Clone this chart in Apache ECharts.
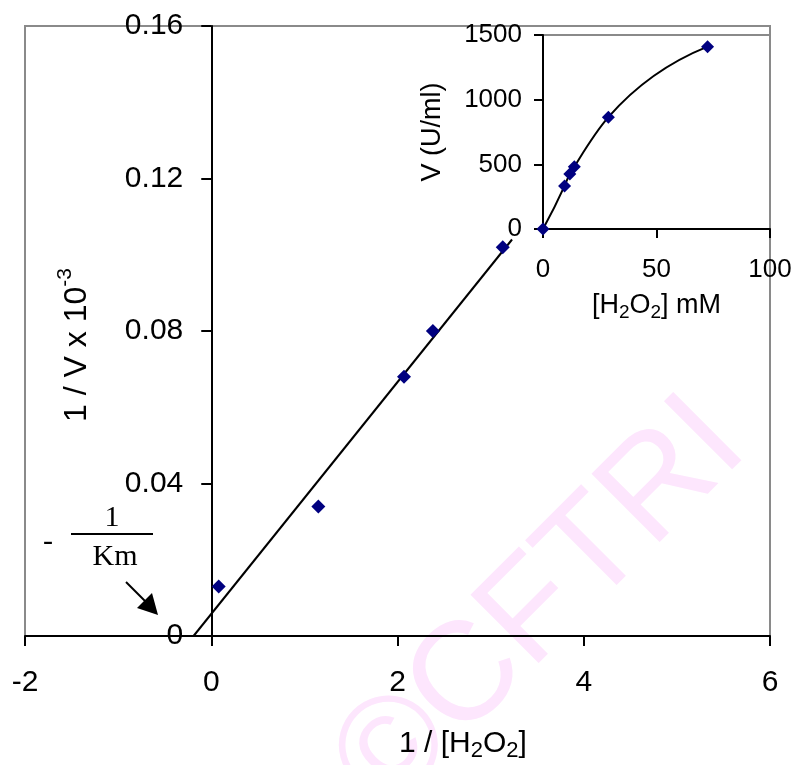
<!DOCTYPE html>
<html>
<head>
<meta charset="utf-8">
<script src="https://cdn.jsdelivr.net/npm/echarts@6/dist/echarts.min.js"></script>
<style>
html,body{margin:0;padding:0;background:#fff;}
#chart{width:795px;height:765px;}
</style>
</head>
<body>
<div id="chart"></div>
<script>
// Main Lineweaver-Burk plot data
const mainX = [0.08, 1.15, 2.07, 2.38, 3.13];
const mainY = [0.013, 0.034, 0.068, 0.080, 0.102];
// Fitted straight line (end points)
const fitX = [-0.19, 3.23];
const fitY = [0, 0.104];
// Inset: V vs [H2O2]
const inX = [0, 9.5, 11.8, 13.8, 28.8, 72.5];
const inY = [0, 333, 425, 482, 865, 1410];
// Tick settings
const mainXTicks = [-2, 0, 2, 4, 6];
const mainYTicks = [0, 0.04, 0.08, 0.12, 0.16];
const inXTicks = [0, 50, 100];
const inYTicks = [0, 500, 1000, 1500];

const FONT = 'Liberation Sans';
const chart = echarts.init(document.getElementById('chart'), null, {renderer: 'canvas'});

const pair = (xs, ys) => xs.map((x, i) => [x, ys[i]]);

// main grid geometry
const G0 = {left: 25, right: 25, top: 26, bottom: 129};
const g0Width = 795 - G0.left - G0.right;
const xMin = mainXTicks[0], xMax = mainXTicks[mainXTicks.length - 1];
// move the y axis so that it crosses the x axis at x = 0
const yAxisOffset = -((0 - xMin) / (xMax - xMin)) * g0Width;

// Smooth curve through the inset points (chordal Hermite -> cubic Bezier), drawn with the axis scales
function smoothPath(pts) {
  const n = pts.length;
  const d = [], u = [];
  for (let i = 0; i < n - 1; i++) {
    const dx = pts[i + 1][0] - pts[i][0], dy = pts[i + 1][1] - pts[i][1];
    const L = Math.hypot(dx, dy) || 1;
    d.push(L); u.push([dx / L, dy / L]);
  }
  const T = [];
  for (let i = 0; i < n; i++) {
    if (i === 0) { T.push(u[0]); continue; }
    if (i === n - 1) { // mirror previous tangent about the last chord
      const c = u[n - 2], t = T[n - 2];
      const dot = c[0] * t[0] + c[1] * t[1];
      const m = [2 * dot * c[0] - t[0], 2 * dot * c[1] - t[1]];
      const l = Math.hypot(m[0], m[1]) || 1;
      T.push([m[0] / l, m[1] / l]); continue;
    }
    const w0 = d[i] / (d[i - 1] + d[i]), w1 = d[i - 1] / (d[i - 1] + d[i]);
    const tx = u[i - 1][0] * w0 + u[i][0] * w1, ty = u[i - 1][1] * w0 + u[i][1] * w1;
    const l = Math.hypot(tx, ty) || 1;
    T.push([tx / l, ty / l]);
  }
  if (n > 2) { // first tangent: mirror second about first chord
    const c = u[0], t = T[1];
    const dot = c[0] * t[0] + c[1] * t[1];
    const m = [2 * dot * c[0] - t[0], 2 * dot * c[1] - t[1]];
    const l = Math.hypot(m[0], m[1]) || 1;
    T[0] = [m[0] / l, m[1] / l];
  }
  let s = 'M' + pts[0][0] + ' ' + pts[0][1];
  for (let i = 0; i < n - 1; i++) {
    const k = d[i] / 3;
    const c1 = [pts[i][0] + T[i][0] * k, pts[i][1] + T[i][1] * k];
    const c2 = [pts[i + 1][0] - T[i + 1][0] * k, pts[i + 1][1] - T[i + 1][1] * k];
    s += ' C' + c1[0] + ' ' + c1[1] + ' ' + c2[0] + ' ' + c2[1] + ' ' + pts[i + 1][0] + ' ' + pts[i + 1][1];
  }
  return s;
}

const option = {
  backgroundColor: '#fff',
  animation: false,
  grid: [
    Object.assign({containLabel: false, outerBoundsMode: 'none',
      show: true, borderColor: '#8a8a8a', borderWidth: 2, backgroundColor: 'transparent'}, G0),
    {left: 543, right: 25, top: 35, bottom: 536, containLabel: false, outerBoundsMode: 'none',
      show: true, borderColor: '#8a8a8a', borderWidth: 2, backgroundColor: 'transparent'}
  ],
  xAxis: [
    {
      type: 'value', gridIndex: 0,
      min: xMin, max: xMax, interval: 2,
      axisLine: {show: true, onZero: false, lineStyle: {color: '#000', width: 2}},
      axisTick: {show: true, length: 10, lineStyle: {color: '#000', width: 2}},
      axisLabel: {color: '#000', fontFamily: FONT, fontSize: 30, margin: 32, formatter: v => String(v)},
      splitLine: {show: false},
      name: '1 / [H{sub|2}O{sub|2}]',
      nameLocation: 'middle', nameGap: 90,
      nameTextStyle: {color: '#000', fontFamily: FONT, fontSize: 30, lineHeight: 36, padding: [0, 0, 0, 131],
        rich: {sub: {fontFamily: FONT, fontSize: 22, lineHeight: 18, verticalAlign: 'bottom', color: '#000'}}}
    },
    {
      type: 'value', gridIndex: 1,
      min: inXTicks[0], max: inXTicks[inXTicks.length - 1], interval: 50,
      axisLine: {show: true, onZero: false, lineStyle: {color: '#000', width: 2}},
      axisTick: {show: true, length: 9, lineStyle: {color: '#000', width: 2}},
      axisLabel: {color: '#000', fontFamily: FONT, fontSize: 26, margin: 28, formatter: v => String(v)},
      splitLine: {show: false},
      name: '[H{sub|2}O{sub|2}] mM',
      nameLocation: 'middle', nameGap: 61,
      nameTextStyle: {color: '#000', fontFamily: FONT, fontSize: 27, lineHeight: 32,
        rich: {sub: {fontFamily: FONT, fontSize: 19, lineHeight: 16, verticalAlign: 'bottom', color: '#000'}}}
    }
  ],
  yAxis: [
    {
      type: 'value', gridIndex: 0, position: 'left', offset: yAxisOffset,
      min: mainYTicks[0], max: mainYTicks[mainYTicks.length - 1], interval: 0.04,
      axisLine: {show: true, onZero: false, lineStyle: {color: '#000', width: 2}},
      axisTick: {show: true, length: 10, lineStyle: {color: '#000', width: 2}},
      axisLabel: {show: true, color: '#000', fontFamily: FONT, fontSize: 30, margin: 28,
        formatter: v => String(Math.round(v * 100) / 100)},
      splitLine: {show: false},
      name: '1 / V x 10{sup|-3}',
      nameLocation: 'middle', nameRotate: 90, nameGap: 111,
      nameTextStyle: {color: '#000', fontFamily: FONT, fontSize: 32, lineHeight: 46, padding: [0, 28, 0, 0],
        rich: {sup: {fontFamily: FONT, fontSize: 21, lineHeight: 21, verticalAlign: 'top', color: '#000'}}}
    },
    {
      type: 'value', gridIndex: 1,
      min: inYTicks[0], max: inYTicks[inYTicks.length - 1], interval: 500,
      axisLine: {show: true, onZero: false, lineStyle: {color: '#000', width: 2}},
      axisTick: {show: true, length: 9, lineStyle: {color: '#000', width: 2}},
      axisLabel: {color: '#000', fontFamily: FONT, fontSize: 26, margin: 21, formatter: v => String(v)},
      splitLine: {show: false},
      name: 'V (U/ml)',
      nameLocation: 'middle', nameRotate: 90, nameGap: 97,
      nameTextStyle: {color: '#000', fontFamily: FONT, fontSize: 27}
    }
  ],
  series: [
    {
      type: 'line', xAxisIndex: 0, yAxisIndex: 0,
      data: pair(fitX, fitY), showSymbol: false, symbol: 'none',
      lineStyle: {color: '#000', width: 2}, z: 3
    },
    {
      type: 'scatter', xAxisIndex: 0, yAxisIndex: 0,
      data: pair(mainX, mainY), symbol: 'diamond', symbolSize: 14,
      itemStyle: {color: '#000080', opacity: 1}, z: 4
    },
    {
      type: 'custom', xAxisIndex: 1, yAxisIndex: 1,
      data: pair(inX, inY), encode: {x: 0, y: 1}, z: 3,
      renderItem: function (params, api) {
        if (params.dataIndex !== 0) return null;
        const pts = inX.map((x, i) => api.coord([x, inY[i]]));
        return {
          type: 'path',
          shape: {pathData: smoothPath(pts)},
          style: {stroke: '#000', lineWidth: 2, fill: 'none'}
        };
      }
    },
    {
      type: 'scatter', xAxisIndex: 1, yAxisIndex: 1,
      data: pair(inX, inY), symbol: 'diamond', symbolSize: 13,
      itemStyle: {color: '#000080', opacity: 1}, z: 4
    }
  ],
  graphic: [
    {
      type: 'text', z: -10, x: 541, y: 606, rotation: Math.PI / 4,
      style: {text: '©CFTRI', fontFamily: FONT, fontSize: 140, fill: '#fde6fd', align: 'center', verticalAlign: 'middle'}
    },
    {
      type: 'text', z: 10, x: 48, y: 542,
      style: {text: '-', fontFamily: 'Liberation Serif', fontSize: 30, fill: '#000', align: 'center', verticalAlign: 'middle'}
    },
    {
      type: 'text', z: 10, x: 112, y: 518,
      style: {text: '1', fontFamily: 'Liberation Serif', fontSize: 30, fill: '#000', align: 'center', verticalAlign: 'middle'}
    },
    {
      type: 'line', z: 10,
      shape: {x1: 71, y1: 534, x2: 153, y2: 534},
      style: {stroke: '#000', lineWidth: 2}
    },
    {
      type: 'text', z: 10, x: 115, y: 557,
      style: {text: 'Km', fontFamily: 'Liberation Serif', fontSize: 30, fill: '#000', align: 'center', verticalAlign: 'middle'}
    },
    {
      type: 'line', z: 10,
      shape: {x1: 126, y1: 582, x2: 148, y2: 604},
      style: {stroke: '#000', lineWidth: 2}
    },
    {
      type: 'polygon', z: 10,
      shape: {points: [[158, 615], [137, 608], [152, 593]]},
      style: {fill: '#000'}
    }
  ]
};
chart.setOption(option);
</script>
</body>
</html>
